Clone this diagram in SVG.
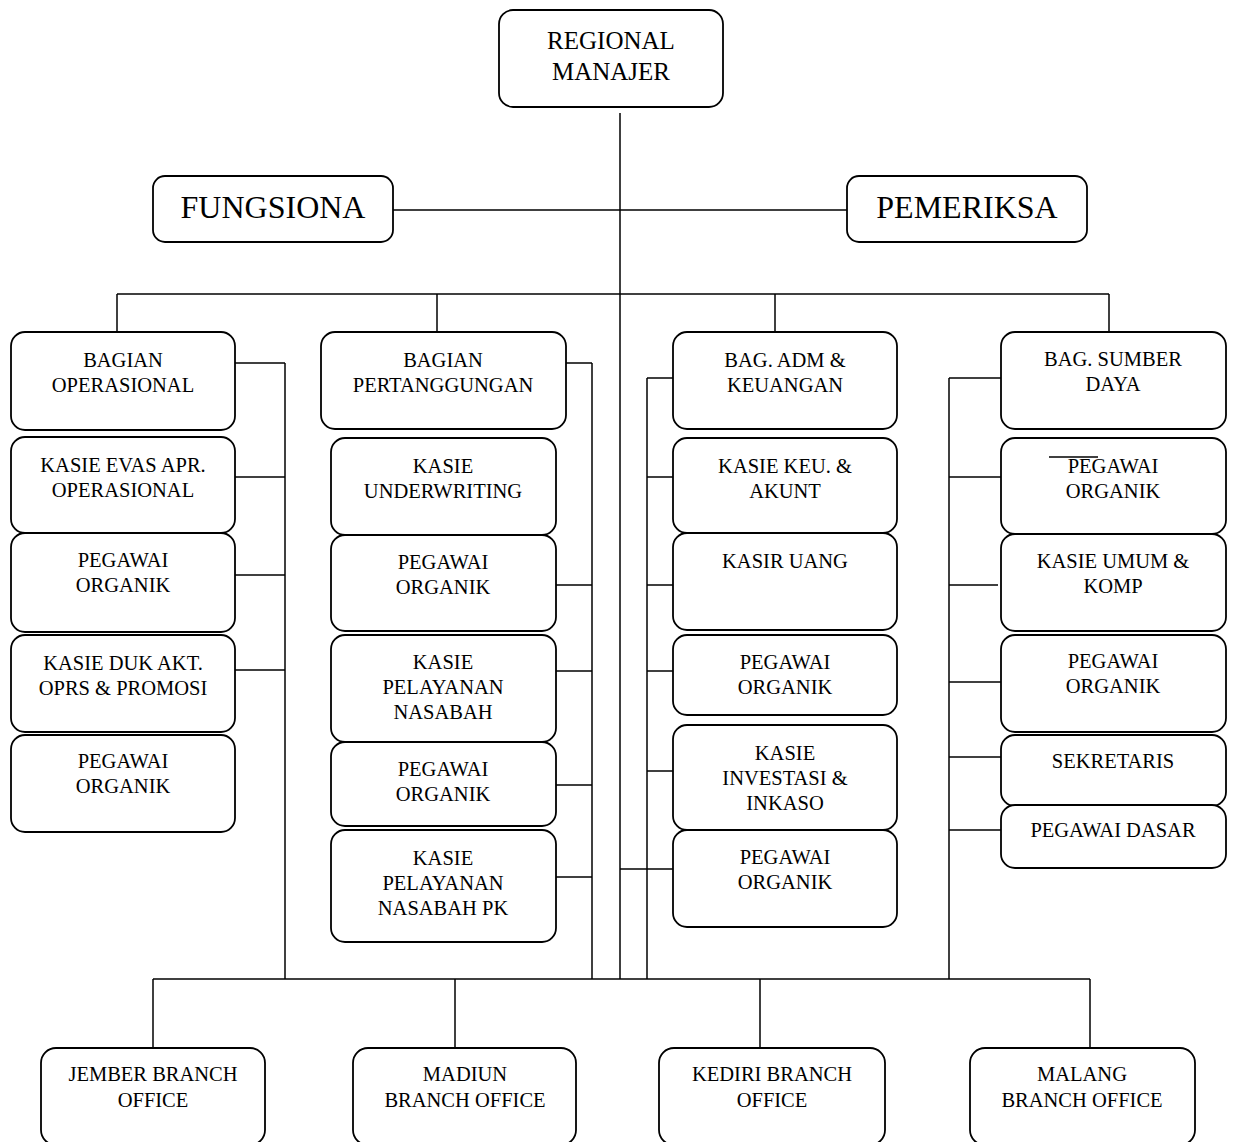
<svg xmlns="http://www.w3.org/2000/svg" width="1235" height="1142" viewBox="0 0 1235 1142">
<style>
rect.b{fill:#fff;stroke:#000;stroke-width:1.8}
text{font-family:'Liberation Serif',serif !important;font-size:20.5px;fill:#000;text-anchor:middle}
text.big{font-size:32px}
text.top{font-size:25px}
#connectors line{stroke:#000;stroke-width:1.5}
</style>
<rect width="1235" height="1142" fill="#fff"/>
<g id="connectors">
<line x1="620" y1="113" x2="620" y2="979"/>
<line x1="393" y1="210" x2="847" y2="210"/>
<line x1="117" y1="294" x2="1109" y2="294"/>
<line x1="117" y1="294" x2="117" y2="332"/>
<line x1="437" y1="294" x2="437" y2="332"/>
<line x1="775" y1="294" x2="775" y2="332"/>
<line x1="1109" y1="294" x2="1109" y2="332"/>
<line x1="285" y1="363" x2="285" y2="979"/>
<line x1="235" y1="363" x2="285" y2="363"/>
<line x1="235" y1="477" x2="285" y2="477"/>
<line x1="235" y1="575" x2="285" y2="575"/>
<line x1="235" y1="670" x2="285" y2="670"/>
<line x1="592" y1="363" x2="592" y2="979"/>
<line x1="566" y1="363" x2="592" y2="363"/>
<line x1="556" y1="585" x2="592" y2="585"/>
<line x1="556" y1="671" x2="592" y2="671"/>
<line x1="556" y1="785" x2="592" y2="785"/>
<line x1="556" y1="877" x2="592" y2="877"/>
<line x1="647" y1="378" x2="647" y2="979"/>
<line x1="647" y1="378" x2="673" y2="378"/>
<line x1="647" y1="477" x2="673" y2="477"/>
<line x1="647" y1="585" x2="673" y2="585"/>
<line x1="647" y1="671" x2="673" y2="671"/>
<line x1="647" y1="771" x2="673" y2="771"/>
<line x1="620" y1="869" x2="673" y2="869"/>
<line x1="949" y1="378" x2="949" y2="979"/>
<line x1="949" y1="378" x2="1001" y2="378"/>
<line x1="949" y1="477" x2="1001" y2="477"/>
<line x1="949" y1="585" x2="998" y2="585"/>
<line x1="949" y1="682" x2="1001" y2="682"/>
<line x1="949" y1="757" x2="1001" y2="757"/>
<line x1="949" y1="830" x2="1001" y2="830"/>
<line x1="153" y1="979" x2="1090" y2="979"/>
<line x1="153" y1="979" x2="153" y2="1048"/>
<line x1="455" y1="979" x2="455" y2="1048"/>
<line x1="760" y1="979" x2="760" y2="1048"/>
<line x1="1090" y1="979" x2="1090" y2="1048"/>
</g>
<g id="regional-manajer"><rect class="b" x="499" y="10" width="224" height="97" rx="14"/><text class="top" x="611" y="49">REGIONAL</text><text class="top" x="611" y="80">MANAJER</text></g>
<g id="fungsiona"><rect class="b" x="153" y="176" width="240" height="66" rx="12"/><text class="big" x="273" y="218">FUNGSIONA</text></g>
<g id="pemeriksa"><rect class="b" x="847" y="176" width="240" height="66" rx="12"/><text class="big" x="967" y="218">PEMERIKSA</text></g>

<g id="bagian-operasional"><rect class="b" x="11" y="332" width="224" height="98" rx="14"/><text x="123" y="367">BAGIAN</text><text x="123" y="392">OPERASIONAL</text></g>
<g id="kasie-evas"><rect class="b" x="11" y="437" width="224" height="96" rx="14"/><text x="123" y="472">KASIE EVAS APR.</text><text x="123" y="497">OPERASIONAL</text></g>
<g id="pegawai-organik-1a"><rect class="b" x="11" y="533" width="224" height="99" rx="14"/><text x="123" y="567">PEGAWAI</text><text x="123" y="592">ORGANIK</text></g>
<g id="kasie-duk"><rect class="b" x="11" y="635" width="224" height="97" rx="14"/><text x="123" y="670">KASIE DUK AKT.</text><text x="123" y="695">OPRS &amp; PROMOSI</text></g>
<g id="pegawai-organik-1b"><rect class="b" x="11" y="735" width="224" height="97" rx="14"/><text x="123" y="768">PEGAWAI</text><text x="123" y="793">ORGANIK</text></g>

<g id="bagian-pertanggungan"><rect class="b" x="321" y="332" width="245" height="97" rx="14"/><text x="443" y="367">BAGIAN</text><text x="443" y="392">PERTANGGUNGAN</text></g>
<g id="kasie-underwriting"><rect class="b" x="331" y="438" width="225" height="97" rx="14"/><text x="443" y="473">KASIE</text><text x="443" y="498">UNDERWRITING</text></g>
<g id="pegawai-organik-2a"><rect class="b" x="331" y="535" width="225" height="96" rx="14"/><text x="443" y="569">PEGAWAI</text><text x="443" y="594">ORGANIK</text></g>
<g id="kasie-pelayanan"><rect class="b" x="331" y="635" width="225" height="107" rx="14"/><text x="443" y="669">KASIE</text><text x="443" y="694">PELAYANAN</text><text x="443" y="719">NASABAH</text></g>
<g id="pegawai-organik-2b"><rect class="b" x="331" y="742" width="225" height="84" rx="14"/><text x="443" y="776">PEGAWAI</text><text x="443" y="801">ORGANIK</text></g>
<g id="kasie-pelayanan-pk"><rect class="b" x="331" y="830" width="225" height="112" rx="14"/><text x="443" y="865">KASIE</text><text x="443" y="890">PELAYANAN</text><text x="443" y="915">NASABAH PK</text></g>

<g id="bag-adm"><rect class="b" x="673" y="332" width="224" height="97" rx="14"/><text x="785" y="367">BAG. ADM &amp;</text><text x="785" y="392">KEUANGAN</text></g>
<g id="kasie-keu"><rect class="b" x="673" y="438" width="224" height="95" rx="14"/><text x="785" y="473">KASIE KEU. &amp;</text><text x="785" y="498">AKUNT</text></g>
<g id="kasir-uang"><rect class="b" x="673" y="533" width="224" height="97" rx="14"/><text x="785" y="568">KASIR UANG</text></g>
<g id="pegawai-organik-3a"><rect class="b" x="673" y="635" width="224" height="80" rx="14"/><text x="785" y="669">PEGAWAI</text><text x="785" y="694">ORGANIK</text></g>
<g id="kasie-investasi"><rect class="b" x="673" y="725" width="224" height="105" rx="14"/><text x="785" y="760">KASIE</text><text x="785" y="785">INVESTASI &amp;</text><text x="785" y="810">INKASO</text></g>
<g id="pegawai-organik-3b"><rect class="b" x="673" y="830" width="224" height="97" rx="14"/><text x="785" y="864">PEGAWAI</text><text x="785" y="889">ORGANIK</text></g>

<g id="bag-sumber-daya"><rect class="b" x="1001" y="332" width="225" height="97" rx="14"/><text x="1113" y="366">BAG. SUMBER</text><text x="1113" y="391">DAYA</text></g>
<g id="pegawai-organik-4a"><rect class="b" x="1001" y="438" width="225" height="96" rx="14"/><text x="1113" y="473">PEGAWAI</text><text x="1113" y="498">ORGANIK</text><line x1="1049" y1="457" x2="1098" y2="457" stroke="#000" stroke-width="1.5"/></g>
<g id="kasie-umum"><rect class="b" x="1001" y="534" width="225" height="97" rx="14"/><text x="1113" y="568">KASIE UMUM &amp;</text><text x="1113" y="593">KOMP</text></g>
<g id="pegawai-organik-4b"><rect class="b" x="1001" y="635" width="225" height="97" rx="14"/><text x="1113" y="668">PEGAWAI</text><text x="1113" y="693">ORGANIK</text></g>
<g id="sekretaris"><rect class="b" x="1001" y="735" width="225" height="71" rx="14"/><text x="1113" y="768">SEKRETARIS</text></g>
<g id="pegawai-dasar"><rect class="b" x="1001" y="805" width="225" height="63" rx="14"/><text x="1113" y="837">PEGAWAI DASAR</text></g>

<g id="jember"><rect class="b" x="41" y="1048" width="224" height="97" rx="15"/><text x="153" y="1081">JEMBER BRANCH</text><text x="153" y="1107">OFFICE</text></g>
<g id="madiun"><rect class="b" x="353" y="1048" width="223" height="97" rx="15"/><text x="465" y="1081">MADIUN</text><text x="465" y="1107">BRANCH OFFICE</text></g>
<g id="kediri"><rect class="b" x="659" y="1048" width="226" height="97" rx="15"/><text x="772" y="1081">KEDIRI BRANCH</text><text x="772" y="1107">OFFICE</text></g>
<g id="malang"><rect class="b" x="970" y="1048" width="225" height="97" rx="15"/><text x="1082" y="1081">MALANG</text><text x="1082" y="1107">BRANCH OFFICE</text></g>
</svg>
